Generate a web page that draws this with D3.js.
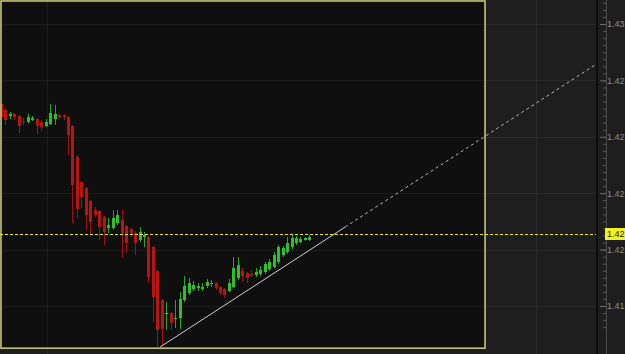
<!DOCTYPE html>
<html>
<head>
<meta charset="utf-8">
<script src="https://cdn.jsdelivr.net/npm/d3@7"></script>
<style>
  body { margin: 0; background: #1e1e1e; overflow: hidden; }
  svg { display: block; }
</style>
</head>
<body>
<svg id="chart"></svg>
<script>
// one value per bar, left to right
const opens = [
  1.42645, 1.42619, 1.42592, 1.42601, 1.42592, 1.42572, 1.42566, 1.42574, 1.42579, 1.42566,
  1.42548, 1.42557, 1.42579, 1.42597, 1.42597, 1.42588, 1.42548, 1.42410, 1.42300, 1.42273,
  1.42215, 1.42176, 1.42171, 1.42144, 1.42096, 1.42096, 1.42118, 1.42131, 1.42105, 1.42091,
  1.42074, 1.42043, 1.42056, 1.42056, 1.42012, 1.41905, 1.41777, 1.41715, 1.41719, 1.41695,
  1.41697, 1.41777, 1.41808, 1.41825, 1.41832, 1.41830, 1.41839, 1.41848, 1.41852, 1.41834,
  1.41825, 1.41817, 1.41834, 1.41874, 1.41905, 1.41896, 1.41892, 1.41887, 1.41892, 1.41901,
  1.41914, 1.41923, 1.41945, 1.41976, 1.41989, 1.42012, 1.42029, 1.42034, 1.42043, 1.42043
];
const highs = [
  1.42650, 1.42628, 1.42610, 1.42605, 1.42597, 1.42583, 1.42601, 1.42592, 1.42583, 1.42574,
  1.42579, 1.42645, 1.42641, 1.42601, 1.42601, 1.42592, 1.42552, 1.42419, 1.42304, 1.42277,
  1.42220, 1.42189, 1.42176, 1.42149, 1.42140, 1.42176, 1.42176, 1.42176, 1.42109, 1.42096,
  1.42082, 1.42100, 1.42078, 1.42060, 1.42016, 1.41910, 1.41781, 1.41768, 1.41723, 1.41777,
  1.41812, 1.41883, 1.41874, 1.41861, 1.41852, 1.41852, 1.41870, 1.41865, 1.41856, 1.41839,
  1.41830, 1.41870, 1.41967, 1.41967, 1.41918, 1.41901, 1.41910, 1.41918, 1.41927, 1.41945,
  1.41958, 1.41989, 1.42020, 1.42016, 1.42056, 1.42065, 1.42060, 1.42056, 1.42056, 1.42065
];
const lows = [
  1.42552, 1.42552, 1.42579, 1.42574, 1.42517, 1.42552, 1.42561, 1.42570, 1.42512, 1.42526,
  1.42543, 1.42552, 1.42552, 1.42579, 1.42574, 1.42419, 1.42118, 1.42140, 1.42184, 1.42087,
  1.42069, 1.42144, 1.42043, 1.42020, 1.42074, 1.42087, 1.42109, 1.41963, 1.41985, 1.42056,
  1.41976, 1.42034, 1.42012, 1.41852, 1.41679, 1.41568, 1.41573, 1.41644, 1.41644, 1.41652,
  1.41648, 1.41768, 1.41799, 1.41817, 1.41817, 1.41817, 1.41830, 1.41834, 1.41821, 1.41799,
  1.41785, 1.41812, 1.41830, 1.41865, 1.41856, 1.41852, 1.41879, 1.41879, 1.41883, 1.41892,
  1.41905, 1.41918, 1.41936, 1.41967, 1.41980, 1.42003, 1.42020, 1.42029, 1.42038, 1.42038
];
const closes = [
  1.42588, 1.42574, 1.42601, 1.42588, 1.42548, 1.42566, 1.42588, 1.42583, 1.42548, 1.42543,
  1.42566, 1.42605, 1.42601, 1.42588, 1.42588, 1.42508, 1.42286, 1.42180, 1.42233, 1.42153,
  1.42122, 1.42153, 1.42100, 1.42078, 1.42109, 1.42140, 1.42153, 1.42074, 1.42029, 1.42074,
  1.42029, 1.42078, 1.42065, 1.41879, 1.41790, 1.41644, 1.41648, 1.41719, 1.41675, 1.41699,
  1.41781, 1.41839, 1.41852, 1.41843, 1.41837, 1.41834, 1.41856, 1.41852, 1.41830, 1.41808,
  1.41799, 1.41852, 1.41918, 1.41932, 1.41883, 1.41874, 1.41887, 1.41901, 1.41910, 1.41936,
  1.41945, 1.41976, 1.42012, 1.42007, 1.42029, 1.42051, 1.42051, 1.42047, 1.42051, 1.42056
];

const priceTicks = [1.4300, 1.4275, 1.4250, 1.4225, 1.4200, 1.4175];
const lastPrice = 1.42069;
const gridBars = [10.3, 119.7];

// drawn objects: trend line (bar, price) and rectangle
const trendStart = [35.6, 1.41568];
const trendEnd = [77, 1.42100];
const boxBars = [0, 108.3];
const boxPrices = [1.43102, 1.41563];

document.addEventListener("DOMContentLoaded", function() {
    const width = 625, height = 354, plotRight = 597, axisX = 606;

    const svg = d3.select("#chart")
                  .attr("width", width)
                  .attr("height", height)
                  .style("font-family", "'Liberation Sans', Arial, sans-serif");

    const x = d3.scaleLinear().domain([-0.22, 133.35]).range([0, plotRight]);
    const y = d3.scaleLinear().domain([1.4300, 1.4175]).range([24, 306]);

    // the price axis is too narrow for more than two decimals
    const shortPrice = d => (Math.floor(d * 100 + 1e-9) / 100).toFixed(2);

    svg.append("rect")
       .attr("width", width).attr("height", height)
       .attr("fill", "#1e1e1e");

    // rectangle fill
    svg.append("rect")
       .attr("x", x(boxBars[0])).attr("y", y(boxPrices[0]))
       .attr("width", x(boxBars[1]) - x(boxBars[0]))
       .attr("height", y(boxPrices[1]) - y(boxPrices[0]))
       .attr("fill", "#0f0f0f");

    // grid
    const grid = svg.append("g")
                    .attr("stroke", "#fff")
                    .attr("stroke-opacity", 0.055)
                    .attr("shape-rendering", "crispEdges");
    grid.selectAll(".h").data(priceTicks).enter().append("line")
        .attr("x1", 0).attr("x2", plotRight)
        .attr("y1", d => Math.round(y(d)) + 0.5).attr("y2", d => Math.round(y(d)) + 0.5);
    grid.selectAll(".v").data(gridBars).enter().append("line")
        .attr("y1", 0).attr("y2", height)
        .attr("x1", d => Math.round(x(d)) + 0.5).attr("x2", d => Math.round(x(d)) + 0.5);

    // candles
    const bars = d3.range(opens.length);
    const up = i => closes[i] >= opens[i];
    const candles = svg.append("g").attr("shape-rendering", "crispEdges");

    candles.selectAll(".wick")
       .data(bars).enter().append("line")
       .attr("x1", i => Math.round(x(i)) + 0.5)
       .attr("x2", i => Math.round(x(i)) + 0.5)
       .attr("y1", i => y(highs[i]))
       .attr("y2", i => y(lows[i]))
       .attr("stroke", i => up(i) ? "#24a824" : "#a01010");

    candles.selectAll(".body")
       .data(bars).enter().append("rect")
       .attr("x", i => Math.round(x(i)) - 1)
       .attr("width", 3)
       .attr("y", i => y(Math.max(opens[i], closes[i])))
       .attr("height", i => Math.max(1.5, Math.abs(y(opens[i]) - y(closes[i]))))
       .attr("fill", i => up(i) ? "#2ebf2e" : "#b81414");

    // rectangle border
    svg.append("rect")
       .attr("x", x(boxBars[0])).attr("y", y(boxPrices[0]))
       .attr("width", x(boxBars[1]) - x(boxBars[0]))
       .attr("height", y(boxPrices[1]) - y(boxPrices[0]))
       .attr("fill", "none")
       .attr("stroke", "#c4c47c")
       .attr("stroke-width", 1.6);

    // trend line, solid between anchors then extended dashed
    const slope = (trendEnd[1] - trendStart[1]) / (trendEnd[0] - trendStart[0]);
    const lastBar = x.domain()[1];
    svg.append("line")
       .attr("x1", x(trendStart[0])).attr("y1", y(trendStart[1]))
       .attr("x2", x(trendEnd[0])).attr("y2", y(trendEnd[1]))
       .attr("stroke", "#d0d0d0").attr("stroke-width", 1);
    svg.append("line")
       .attr("x1", x(trendEnd[0])).attr("y1", y(trendEnd[1]))
       .attr("x2", x(lastBar)).attr("y2", y(trendEnd[1] + slope * (lastBar - trendEnd[0])))
       .attr("stroke", "#b8b8b8").attr("stroke-width", 1)
       .attr("stroke-dasharray", "3,3");

    // current price line
    svg.append("line")
       .attr("x1", 0).attr("x2", plotRight)
       .attr("y1", Math.round(y(lastPrice)) + 0.5).attr("y2", Math.round(y(lastPrice)) + 0.5)
       .attr("stroke", "#e6e62a")
       .attr("stroke-dasharray", "3,2");

    // price axis
    svg.append("rect")
       .attr("x", plotRight - 1).attr("width", 2).attr("height", height)
       .attr("fill", "#0c0c0c");
    svg.append("line")
       .attr("x1", axisX + 0.5).attr("x2", axisX + 0.5)
       .attr("y1", 0).attr("y2", height)
       .attr("stroke", "#4a4a4a");

    const minorTicks = d3.range(-3, 44).map(k => 1.4300 - k * 0.0025 / 8);
    svg.append("g")
       .attr("transform", `translate(${axisX},0)`)
       .call(d3.axisLeft(y).tickValues(minorTicks).tickSize(3).tickFormat(""))
       .call(g => g.select(".domain").remove())
       .call(g => g.selectAll("line").attr("stroke", "#5a5a5a"));
    svg.append("g")
       .attr("transform", `translate(${axisX},0)`)
       .call(d3.axisLeft(y).tickValues(priceTicks).tickSize(6).tickFormat(""))
       .call(g => g.select(".domain").remove())
       .call(g => g.selectAll("line").attr("stroke", "#6a6a6a"));
    svg.append("g")
       .attr("transform", `translate(${axisX},0)`)
       .call(d3.axisRight(y).tickValues(priceTicks).tickSize(0).tickPadding(1).tickFormat(shortPrice))
       .call(g => g.select(".domain").remove())
       .call(g => g.selectAll("text").attr("fill", "#8c8c8c").style("font-size", "9px"));

    // last price badge
    const ly = Math.round(y(lastPrice));
    svg.append("rect")
       .attr("x", axisX - 1).attr("y", ly - 6)
       .attr("width", width - axisX + 1).attr("height", 12)
       .attr("fill", "#f2f21e");
    svg.append("text")
       .attr("x", axisX + 1).attr("y", ly)
       .attr("dy", "0.32em")
       .attr("fill", "#1a1a1a")
       .style("font-size", "9px")
       .text(shortPrice(lastPrice));
});
</script>
</body>
</html>
